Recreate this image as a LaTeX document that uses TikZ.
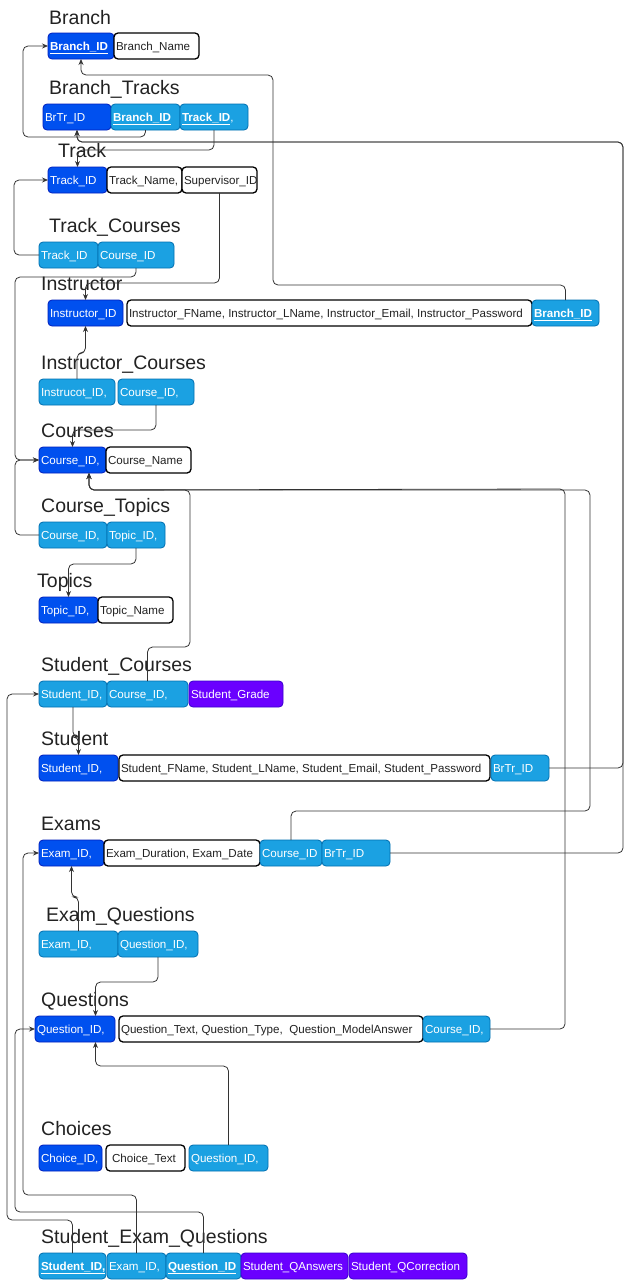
\documentclass[tikz,border=0pt]{standalone}
\usepackage{fontspec}
\setmainfont{Liberation Sans}
\usetikzlibrary{arrows.meta,calc}
\definecolor{pkfill}{HTML}{0050EF}
\definecolor{pkdraw}{HTML}{001DBC}
\definecolor{fkfill}{HTML}{1BA1E2}
\definecolor{fkdraw}{HTML}{006EAF}
\definecolor{pufill}{HTML}{6A00FF}
\definecolor{pudraw}{HTML}{3700CC}
\definecolor{ink}{HTML}{222222}
\definecolor{wire}{HTML}{333333}
% name, style, x-left, x-right, y-middle, text
\newcommand\fld[6]{\pgfmathsetmacro\fldw{#4-#3-4}\node[fld,#2] (#1) at (#3,#5) {\makebox[\fldw pt][l]{#6}};}
\begin{document}
\begin{tikzpicture}[x=1pt,y=-1pt,
 fld/.style={anchor=west, rounded corners=4pt, inner xsep=2pt, inner ysep=0pt, outer sep=0pt, minimum height=26pt, text height=10.5pt, text depth=2.5pt, font=\fontsize{11.6}{13}\selectfont},
 pk/.style={fill=pkfill, draw=pkdraw, line width=0.8pt, text=white},
 fk/.style={fill=fkfill, draw=fkdraw, line width=0.8pt, text=white},
 pu/.style={fill=pufill, draw=pudraw, line width=0.8pt, text=white},
 wh/.style={fill=white, draw=black, line width=1.3pt, text=ink},
 ttl/.style={anchor=base west, inner sep=0pt, font=\fontsize{19.5}{22}\selectfont, text=ink},
 conn/.style={draw=wire, line width=0.8pt, rounded corners=5pt, -{Stealth[length=6pt,width=5pt]}},
]
\useasboundingbox (0,0) rectangle (632,1280);

% ---- titles ----
\node[ttl] (tBranch) at (49,24) {Branch};
\node[ttl] (tBT) at (49,94) {Branch\_Tracks};
\node[ttl] (tTrack) at (58,157) {Track};
\node[ttl] (tTC) at (49,232) {Track\_Courses};
\node[ttl] (tIn) at (41,290) {Instructor};
\node[ttl] (tIC) at (41,369) {Instructor\_Courses};
\node[ttl] (tCo) at (41,437) {Courses};
\node[ttl] (tCT) at (41,512) {Course\_Topics};
\node[ttl] (tTp) at (37,587) {Topics};
\node[ttl] (tSC) at (41,671) {Student\_Courses};
\node[ttl] (tSt) at (41,745) {Student};
\node[ttl] (tEx) at (41,830) {Exams};
\node[ttl] (tEQ) at (46,921) {Exam\_Questions};
\node[ttl] (tQu) at (41,1006) {Questions};
\node[ttl] (tCh) at (41,1135) {Choices};
\node[ttl] (tSQ) at (41,1243) {Student\_Exam\_Questions};

% ---- fields ----
\fld{br1}{pk}{48}{114}{46}{\underline{\textbf{Branch\_ID}}}
\fld{br2}{wh}{114}{199}{46}{Branch\_Name}

\fld{bt1}{pk}{43}{111}{117}{BrTr\_ID}
\fld{bt2}{fk}{111}{180}{117}{\underline{\textbf{Branch\_ID}}}
\fld{bt3}{fk}{180}{248}{117}{\underline{\textbf{Track\_ID}},}

\fld{tr1}{pk}{48}{107}{180}{Track\_ID}
\fld{tr2}{wh}{107}{182}{180}{Track\_Name,}
\fld{tr3}{wh}{182}{257}{180}{Supervisor\_ID}

\fld{tc1}{fk}{39}{98}{255}{Track\_ID}
\fld{tc2}{fk}{98}{174}{255}{Course\_ID}

\fld{in1}{pk}{48}{123}{313}{Instructor\_ID}
\fld{in2}{wh}{127}{532}{313}{Instructor\_FName, Instructor\_LName, Instructor\_Email, Instructor\_Password}
\fld{in3}{fk}{532}{599}{313}{\underline{\textbf{Branch\_ID}}}

\fld{ic1}{fk}{39}{115}{392}{Instrucot\_ID,}
\fld{ic2}{fk}{118}{194}{392}{Course\_ID,}

\fld{co1}{pk}{39}{106}{460}{Course\_ID,}
\fld{co2}{wh}{106}{191}{460}{Course\_Name}

\fld{ct1}{fk}{39}{107}{535}{Course\_ID,}
\fld{ct2}{fk}{107}{165}{535}{Topic\_ID,}

\fld{tp1}{pk}{39}{98}{610}{Topic\_ID,}
\fld{tp2}{wh}{98}{173}{610}{Topic\_Name}

\fld{sc1}{fk}{39}{107}{694}{Student\_ID,}
\fld{sc2}{fk}{107}{188}{694}{Course\_ID,}
\fld{sc3}{pu}{189}{283}{694}{Student\_Grade}

\fld{st1}{pk}{39}{118}{768}{Student\_ID,}
\fld{st2}{wh}{119}{490}{768}{Student\_FName, Student\_LName, Student\_Email, Student\_Password}
\fld{st3}{fk}{491}{549}{768}{BrTr\_ID}

\fld{ex1}{pk}{39}{104}{853}{Exam\_ID,}
\fld{ex2}{wh}{104}{260}{853}{Exam\_Duration, Exam\_Date}
\fld{ex3}{fk}{260}{322}{853}{Course\_ID}
\fld{ex4}{fk}{322}{390}{853}{BrTr\_ID}

\fld{eq1}{fk}{39}{118}{944}{Exam\_ID,}
\fld{eq2}{fk}{118}{198}{944}{Question\_ID,}

\fld{qu1}{pk}{35}{115}{1029}{Question\_ID,}
\fld{qu2}{wh}{119}{423}{1029}{Question\_Text, Question\_Type,\ \ Question\_ModelAnswer}
\fld{qu3}{fk}{423}{490}{1029}{Course\_ID,}

\fld{ch1}{pk}{39}{102}{1158}{Choice\_ID,}
\fld{ch2}{wh}{106}{185}{1158}{\hspace{4pt}Choice\_Text}
\fld{ch3}{fk}{189}{268}{1158}{Question\_ID,}

\fld{sq1}{fk}{39}{106}{1266}{\underline{\textbf{Student\_ID,}}}
\fld{sq2}{fk}{107}{166}{1266}{Exam\_ID,}
\fld{sq3}{fk}{166}{241}{1266}{\underline{\textbf{Question\_ID}}}
\fld{sq4}{pu}{241}{348}{1266}{Student\_QAnswers}
\fld{sq5}{pu}{349}{467}{1266}{Student\_QCorrection}

% ---- junction points ----
\coordinate (cj) at ($(co1.south)+(16.5,17)$);
\coordinate (ctip) at ($(co1.south)+(16.5,0)$);

% ---- connectors ----
\draw[conn] (bt2.south) -- ++(0,7) -| ([xshift=-25]br1.west) -- (br1.west);
\draw[conn] (in3.north) -- ++(0,-15) -| (273,75) -| (br1.south);
\draw[conn] (bt3.south) -- ++(0,20) -| (tr1.north);
\draw[conn] (st3.east) -| (623,142) -| (bt1.south);
\draw[conn] (ex4.east) -| (623,142) -| (bt1.south);
\draw[conn] (tc1.west) -- ++(-25,0) |- (tr1.west);
\draw[conn] (tr3.south) -- ++(0,90) -| (in1.north);
\draw[conn] (tc2.south) -- ++(0,9) -| ([xshift=-24]co1.west) -- (co1.west);
\draw[conn] (ic1.north) -- ++(0,-26) -| (in1.south);
\draw[conn] (ic2.south) -- ++(0,25) -| (co1.north);
\draw[conn] (ct1.west) -- ++(-24,0) |- (co1.west);
\draw[conn] (ct2.south) -- ++(0,16) -| (tp1.north);
\draw[conn] (sc2.north) |- (190,647) |- (cj) -- (ctip);
\draw[conn] (qu3.east) -| (565,489) -- (cj) -- (ctip);
\draw[conn] (ex3.north) |- (590,811) |- (cj) -- (ctip);
\draw[conn] (sc1.south) -- ++(0,30) -| (st1.north);
\draw[conn] (sq1.north) -- ++(0,-33) -| ([xshift=-32]sc1.west) -- (sc1.west);
\draw[conn] (sq2.north) -- ++(0,-58) -| ([xshift=-16]ex1.west) -- (ex1.west);
\draw[conn] (sq3.north) -- ++(0,-41) -| ([xshift=-20]qu1.west) -- (qu1.west);
\draw[conn] (eq1.north) -- ++(0,-34) -| (ex1.south);
\draw[conn] (eq2.south) -- ++(0,25) -| ([xshift=20.5]qu1.north);
\draw[conn] (ch3.north) -- ++(0,-79) -| ([xshift=20.5]qu1.south);
\end{tikzpicture}
\end{document}
